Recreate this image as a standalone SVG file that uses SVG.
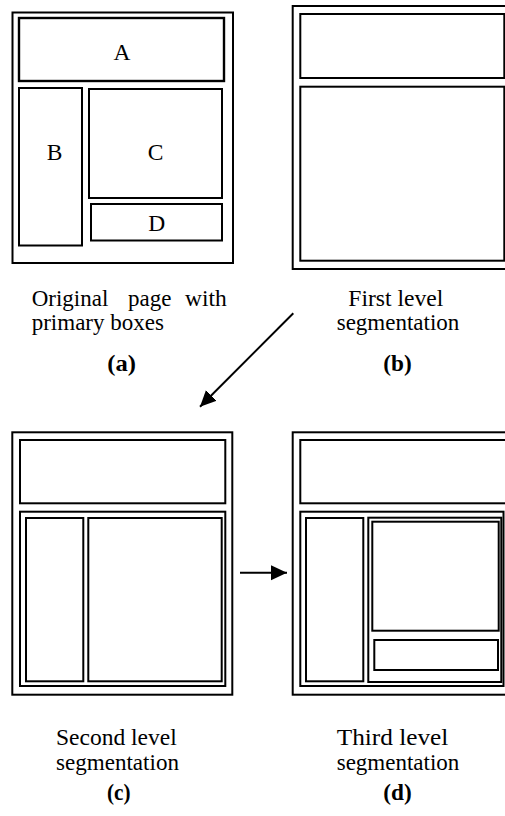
<svg xmlns="http://www.w3.org/2000/svg" width="505" height="816" viewBox="0 0 505 816">
  <style>
    .box { fill: none; stroke: #000; stroke-width: 2; }
    .lbl { font-family: "Liberation Serif", "Times New Roman", serif; font-size: 23.5px; fill: #000; }
    .cap { font-family: "Liberation Serif", "Times New Roman", serif; font-size: 23px; fill: #000; }
    .tag { font-family: "Liberation Serif", "Times New Roman", serif; font-size: 23px; font-weight: bold; fill: #000; }
    .conn { stroke: #000; stroke-width: 2; fill: none; }
  </style>
  <defs>
    <marker id="head" markerUnits="userSpaceOnUse" markerWidth="18" markerHeight="16" refX="16" refY="7.5" orient="auto">
      <path d="M0,0 L16,7.5 L0,15 Z" fill="#000"/>
    </marker>
  </defs>
  <rect width="505" height="816" fill="#fff"/>

  <!-- (a) original page with primary boxes -->
  <g id="panel-a">
    <rect class="box" x="12.5" y="12.5" width="220.5" height="250.5"/>
    <rect class="box" x="19" y="18" width="205" height="63" style="stroke-width:2.4"/>
    <rect class="box" x="19" y="88" width="63" height="157.5"/>
    <rect class="box" x="89" y="89" width="133" height="109"/>
    <rect class="box" x="91" y="204" width="131" height="36.5"/>
    <text class="lbl" x="122" y="59.5" text-anchor="middle">A</text>
    <text class="lbl" x="54.7" y="159.5" text-anchor="middle">B</text>
    <text class="lbl" x="155.5" y="159.5" text-anchor="middle">C</text>
    <text class="lbl" x="156.7" y="230.5" text-anchor="middle">D</text>
  </g>
  <g id="caption-a">
    <text class="cap" x="31.7" y="305.5" textLength="76.6" lengthAdjust="spacingAndGlyphs">Original</text>
    <text class="cap" x="128" y="305.5">page</text>
    <text class="cap" x="185" y="305.5" textLength="41.7" lengthAdjust="spacingAndGlyphs">with</text>
    <text class="cap" x="31.7" y="330" textLength="132.3" lengthAdjust="spacingAndGlyphs">primary boxes</text>
    <text class="tag" x="107.3" y="371" textLength="28.7" lengthAdjust="spacingAndGlyphs">(a)</text>
  </g>

  <!-- (b) first level segmentation -->
  <g id="panel-b">
    <rect class="box" x="292.7" y="6" width="220" height="263"/>
    <rect class="box" x="300.3" y="14" width="204" height="64"/>
    <rect class="box" x="300.3" y="86.7" width="204" height="174"/>
  </g>
  <g id="caption-b">
    <text class="cap" x="348.3" y="306" textLength="95" lengthAdjust="spacingAndGlyphs">First level</text>
    <text class="cap" x="336.7" y="330" textLength="122.6" lengthAdjust="spacingAndGlyphs">segmentation</text>
    <text class="tag" x="383.3" y="371" textLength="28.4" lengthAdjust="spacingAndGlyphs">(b)</text>
  </g>

  <!-- (c) second level segmentation -->
  <g id="panel-c">
    <rect class="box" x="12.3" y="432.3" width="220" height="262.4"/>
    <rect class="box" x="20" y="440" width="205.3" height="63.3"/>
    <rect class="box" x="20" y="511.7" width="205.3" height="174.3"/>
    <rect class="box" x="26" y="518" width="57.3" height="163.3"/>
    <rect class="box" x="88.3" y="518" width="133.4" height="163.3"/>
  </g>
  <g id="caption-c">
    <text class="cap" x="56" y="745" textLength="120.7" lengthAdjust="spacingAndGlyphs">Second level</text>
    <text class="cap" x="56" y="769.5" textLength="123" lengthAdjust="spacingAndGlyphs">segmentation</text>
    <text class="tag" x="107" y="800" textLength="23.5" lengthAdjust="spacingAndGlyphs">(c)</text>
  </g>

  <!-- (d) third level segmentation -->
  <g id="panel-d">
    <rect class="box" x="292.7" y="432.3" width="220" height="262.4"/>
    <rect class="box" x="300.3" y="440" width="210" height="63.3"/>
    <rect class="box" x="300.3" y="511.7" width="203.2" height="174.3"/>
    <rect class="box" x="306" y="518" width="57.3" height="163.3"/>
    <rect class="box" x="368.3" y="517.7" width="133" height="164.3"/>
    <rect class="box" x="372.3" y="521.7" width="126.4" height="109"/>
    <rect class="box" x="374.3" y="640" width="123.7" height="30"/>
  </g>
  <g id="caption-d">
    <text class="cap" x="336.7" y="745" textLength="111.6" lengthAdjust="spacingAndGlyphs">Third level</text>
    <text class="cap" x="336.7" y="769.5" textLength="122.6" lengthAdjust="spacingAndGlyphs">segmentation</text>
    <text class="tag" x="383.3" y="800" textLength="28.4" lengthAdjust="spacingAndGlyphs">(d)</text>
  </g>

  <!-- connectors -->
  <g id="connectors">
    <line class="conn" x1="293.3" y1="313.3" x2="200" y2="406.7" marker-end="url(#head)"/>
    <line class="conn" x1="240" y1="572.7" x2="287" y2="572.7" marker-end="url(#head)"/>
  </g>
</svg>
